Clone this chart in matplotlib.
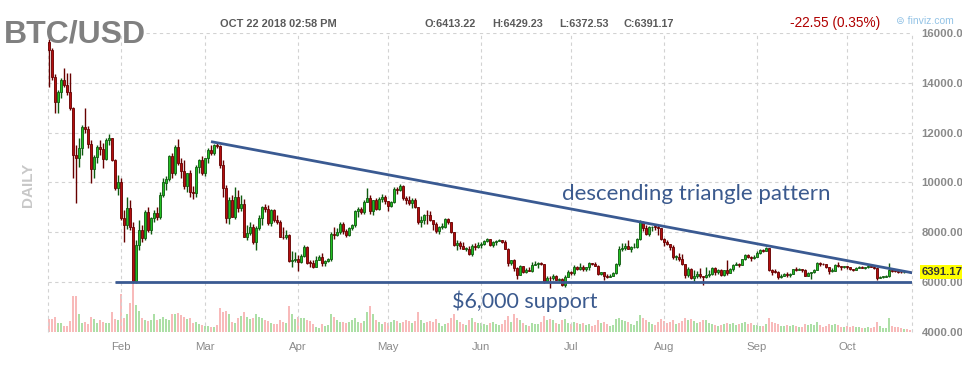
import numpy as np
import pandas as pd
import matplotlib
matplotlib.use("Agg")
import matplotlib.pyplot as plt
import matplotlib.dates as mdates
from matplotlib.transforms import blended_transform_factory
from matplotlib.patches import Rectangle

plt.rcParams["font.family"] = ["Liberation Sans", "DejaVu Sans"]

# daily BTC/USD candles, one per day from Jan 8 to Oct 22 2018
first_day = "2018-01-08"
last_day = "2018-10-22"
first_open = 15650

close = [
    # Jan
    15300, 14240, 13240, 13640, 14110, 13910, 13640, 12970, 11100, 10980, 11370, 12230,
    12150, 11550, 10560, 11030, 11440, 11360, 10960, 11700, 11780, 10900, 9760, 10030,
    # Feb
    8560, 8290, 8960, 8230, 6030, 7490, 8090, 7760, 8830, 8090, 8560, 8760, 8600, 9480,
    10000, 10150, 11050, 10400, 11440, 10770, 10450, 9850, 10370, 9630, 9560, 10630, 10900, 10370,
    # Mar
    10970, 11300, 11170, 11500, 11450, 10700, 9770, 8560, 9300, 8630, 9430, 8960, 9150, 7830,
    7960, 8230, 7630, 8160, 8560, 9000, 8950, 8360, 8900, 8490, 8430, 7830, 7800, 7900, 6850,
    6880, 6930,
    # Apr
    6820, 7050, 7400, 6780, 6770, 6620, 6900, 7030, 6780, 6840, 6940, 7920, 7890, 8000, 8350,
    8060, 7890, 8160, 8280, 8860, 8920, 8800, 9230, 9360, 8870, 9280, 8940, 9350, 9400, 9240,
    # May
    9070, 9220, 9740, 9700, 9850, 9380, 9280, 9180, 9310, 9010, 8420, 8480, 8700, 8680, 8480,
    8340, 8060, 8230, 8230, 8520, 8400, 8000, 7500, 7580, 7470, 7350, 7350, 7120, 7460, 7400, 7500,
    # Jun
    7530, 7640, 7720, 7500, 7620, 7650, 7690, 7620, 7350, 6760, 6880, 6550, 6300, 6640, 6400,
    6490, 6460, 6700, 6740, 6760, 6720, 6050, 6170, 6150, 6250, 6100, 6130, 5880, 6220, 6390,
    # Jul
    6360, 6620, 6510, 6590, 6530, 6600, 6760, 6710, 6660, 6310, 6390, 6250, 6220, 6260, 6360,
    6740, 7320, 7380, 7470, 7330, 7400, 7400, 7720, 8400, 8170, 7940, 8200, 8230, 8220, 8180, 7730,
    # Aug
    7610, 7540, 7420, 7010, 7030, 6940, 6720, 6280, 6540, 6150, 6240, 6320, 6250, 6190, 6270,
    6310, 6580, 6400, 6490, 6270, 6480, 6360, 6530, 6700, 6730, 6700, 6910, 7080, 7030, 6980, 7020,
    # Sep
    7190, 7280, 7260, 7360, 6500, 6420, 6410, 6190, 6250, 6330, 6290, 6340, 6510, 6500, 6520,
    6500, 6260, 6350, 6390, 6490, 6760, 6720, 6710, 6590, 6440, 6460, 6680, 6630, 6600, 6630,
    # Oct
    6590, 6530, 6490, 6570, 6620, 6580, 6600, 6660, 6620, 6580, 6180, 6200, 6210, 6230, 6490,
    6460, 6440, 6400, 6390, 6420, 6413.22, 6391.17,
]

high = [
    15750, 15400, 14350, 13700, 14200, 14580, 14380, 14380, 13050, 11500, 11800, 12300,
    13010, 12250, 11700, 11100, 11500, 11700, 11600, 11800, 11960, 11800, 10950, 10300,
    10200, 8900, 9430, 9300, 8400, 7700, 8500, 8300, 8900, 9000, 8600, 8900, 9000, 9600,
    10200, 10250, 11100, 11200, 11500, 11750, 11000, 10900, 10400, 10500, 9850, 10700, 10950, 11050,
    11000, 11400, 11500, 11550, 11640, 11500, 10900, 9900, 9400, 9500, 9830, 9700, 9480, 9350,
    8300, 8400, 8350, 8250, 8700, 9050, 9150, 9100, 8950, 8950, 8700, 8500, 8200, 8100, 7950,
    7250, 7200,
    7100, 7120, 7500, 7450, 6900, 6900, 7050, 7100, 7180, 6880, 6980, 8000, 8200, 8180, 8400,
    8400, 8150, 8200, 8320, 8900, 9030, 9000, 9300, 9780, 9500, 9300, 9380, 9400, 9550, 9480,
    9260, 9270, 9800, 9800, 9950, 9900, 9450, 9470, 9380, 9380, 9030, 8650, 8750, 8880, 8840,
    8500, 8400, 8260, 8380, 8580, 8560, 8420, 8020, 7700, 7650, 7600, 7400, 7440, 7530, 7560, 7600,
    7600, 7690, 7760, 7750, 7660, 7700, 7750, 7700, 7690, 7380, 6900, 6910, 6620, 6700, 6660,
    6550, 6600, 6800, 6830, 6800, 6790, 6730, 6250, 6250, 6330, 6290, 6180, 6170, 6300, 6480,
    6430, 6680, 6650, 6760, 6690, 6620, 6800, 6780, 6800, 6690, 6400, 6400, 6340, 6310, 6400,
    6760, 7470, 7580, 7560, 7690, 7450, 7570, 7770, 8480, 8460, 8280, 8260, 8240, 8290, 8280, 8190,
    7760, 7700, 7540, 7490, 7090, 7160, 7150, 6730, 6620, 6560, 6480, 6460, 6550, 6260, 6620,
    6480, 6590, 6600, 6540, 6520, 6500, 6880, 6560, 6720, 6810, 6770, 6940, 7140, 7140, 7060, 7080,
    7250, 7340, 7350, 7400, 7380, 6530, 6520, 6460, 6320, 6350, 6400, 6360, 6540, 6590, 6560,
    6530, 6520, 6390, 6420, 6540, 6800, 6800, 6770, 6720, 6600, 6550, 6710, 6800, 6640, 6650,
    6650, 6610, 6540, 6600, 6640, 6630, 6610, 6690, 6660, 6630, 6590, 6250, 6240, 6300, 6780,
    6510, 6480, 6460, 6430, 6430, 6450, 6429.23,
]

low = [
    13850, 14100, 12800, 12790, 13400, 13850, 13500, 12900, 10180, 9190, 10630, 11100,
    12000, 11400, 9970, 10180, 10800, 11100, 10600, 10900, 11500, 10850, 9700, 9500,
    8500, 7620, 8150, 8100, 5980, 5970, 7300, 7600, 7700, 8000, 7950, 8400, 8500, 8550,
    9400, 9700, 10050, 10200, 10300, 10700, 10200, 9750, 9600, 9400, 9350, 9400, 10400, 10300,
    10250, 10800, 11100, 11100, 11400, 10600, 9400, 8370, 8350, 8600, 8550, 8800, 8850, 7800,
    7700, 7900, 7550, 7300, 8100, 8300, 8800, 8300, 8250, 8400, 8350, 7800, 7750, 7750, 6800,
    6600, 6800,
    6450, 6780, 7000, 6720, 6600, 6550, 6600, 6880, 6630, 6660, 6800, 6850, 7750, 7850, 7950,
    7950, 7830, 7850, 8100, 8200, 8600, 8750, 8750, 9200, 8750, 8700, 8900, 8900, 9200, 9150,
    8850, 9020, 9180, 9530, 9650, 9300, 9150, 9100, 8980, 8990, 8330, 8200, 8350, 8350, 8440,
    8100, 7960, 7950, 8150, 8180, 8350, 7980, 7450, 7300, 7350, 7330, 7250, 7090, 7060, 7300, 7370,
    7360, 7480, 7600, 7470, 7400, 7500, 7640, 7570, 7320, 6650, 6680, 6460, 6120, 6280, 6380,
    6380, 6450, 6400, 6670, 6580, 6680, 5950, 6030, 5780, 6090, 6080, 6030, 5850, 5800, 6200,
    6270, 6300, 6500, 6480, 6450, 6450, 6500, 6690, 6650, 6280, 6300, 6080, 6150, 6190, 6250,
    6340, 6660, 7240, 7280, 7320, 7220, 7390, 7390, 7700, 8050, 7880, 7850, 8070, 8110, 7880, 7690,
    7460, 7490, 7300, 6940, 6880, 6860, 6670, 6150, 6200, 6120, 6030, 6180, 6160, 5880, 6180,
    6220, 6300, 6300, 6320, 6260, 6260, 6300, 6350, 6450, 6680, 6600, 6670, 6880, 6980, 6860, 6920,
    7000, 7150, 7200, 7250, 6450, 6300, 6360, 6140, 6150, 6240, 6200, 6200, 6330, 6460, 6490,
    6410, 6240, 6250, 6130, 6370, 6480, 6660, 6680, 6570, 6330, 6400, 6440, 6600, 6500, 6580,
    6540, 6500, 6460, 6480, 6550, 6570, 6540, 6580, 6590, 6530, 6080, 6160, 6180, 6190, 6200,
    6420, 6410, 6360, 6370, 6380, 6400, 6372.53,
]

# traded volume, relative units (same day order)
volume = [
    13, 13, 15, 9, 9, 6, 6, 11, 36, 36, 18, 9, 10, 8, 15, 13, 9, 12, 10, 9, 9, 20, 13, 12,
    38, 14, 18, 29, 49, 27, 21, 14, 12, 11, 12, 18, 12, 13, 15, 13, 12, 18, 18, 19, 17, 15,
    13, 14, 9, 10, 8, 7,
    6, 6, 5, 5, 7, 24, 20, 21, 18, 10, 9, 14, 16, 20, 15, 13, 14, 18, 15, 14, 12, 11, 9, 8,
    8, 12, 10, 9, 26, 18, 13,
    15, 14, 14, 12, 11, 8, 5, 4, 8, 6, 7, 18, 15, 12, 10, 10, 9, 10, 12, 14, 10, 9, 11, 20,
    26, 18, 12, 10, 8, 10,
    9, 10, 12, 11, 9, 10, 12, 11, 9, 11, 20, 12, 9, 10, 11, 10, 13, 9, 6, 8, 9, 14, 18, 12,
    10, 8, 7, 12, 14, 10, 9,
    9, 8, 7, 9, 10, 8, 7, 8, 12, 16, 10, 18, 14, 12, 9, 7, 6, 9, 8, 8, 10, 16, 12, 13, 12, 9,
    8, 12, 13, 9,
    8, 10, 9, 8, 9, 7, 8, 6, 7, 12, 9, 10, 8, 6, 7, 13, 14, 12, 11, 10, 8, 7, 11, 17, 14, 12,
    10, 8, 7, 10, 13,
    11, 9, 10, 12, 8, 9, 11, 14, 12, 13, 11, 9, 10, 12, 12, 9, 8, 7, 6, 7, 8, 9, 8, 9, 7, 8,
    9, 10, 8, 9, 7,
    7, 6, 6, 8, 14, 10, 9, 8, 6, 6, 7, 6, 7, 6, 5, 5, 8, 7, 8, 7, 10, 7, 5, 6, 8, 7, 8, 7, 5, 5,
    6, 5, 6, 5, 5, 4, 4, 5, 4, 5, 10, 6, 4, 4, 14, 6, 5, 5, 4, 3, 3, 2,
]

month_starts = ["2018-02-01", "2018-03-01", "2018-04-01", "2018-05-01", "2018-06-01",
                "2018-07-01", "2018-08-01", "2018-09-01", "2018-10-01"]
month_names = ["Feb", "Mar", "Apr", "May", "Jun", "Jul", "Aug", "Sep", "Oct"]
price_ticks = [4000, 6000, 8000, 10000, 12000, 14000, 16000]

# drawn-in lines
support_price = 6000
support_start = "2018-01-30"
trend_dates = ["2018-03-03", "2018-10-23"]
trend_prices = [11640, 6370]

quote_time = "OCT 22 2018 02:58 PM"
quote_names = ["O", "H", "L", "C"]
quote_values = [6413.22, 6429.23, 6372.53, 6391.17]
change = -22.55
change_pct = 0.35

W, H = 978, 374


def fx(px):
    return px / W


def fy(py):
    return 1 - py / H


days = mdates.date2num(pd.date_range(first_day, last_day, freq="D"))
c = np.array(close, dtype=float)
# 24h market: each day opens where the previous one closed
o = np.concatenate([[first_open], c[:-1]])
hi = np.array(high, dtype=float)
lo = np.array(low, dtype=float)
up = c >= o

fig = plt.figure(figsize=(W / 100, H / 100), dpi=100)
axv = fig.add_axes([fx(48), fy(332), fx(912) - fx(48), fy(33) - fy(332)])
ax = axv.twinx()

x_left = days[0] - 0.33
x_right = days[-1] + 0.67

# volume underneath the candles
axv.bar(days, volume, width=0.9, color=np.where(up, "#acdfa6", "#f8baba"), linewidth=0)
axv.set_ylim(0, 299)
axv.set_xlim(x_left, x_right)
axv.set_yticks([])
axv.set_xticks(mdates.date2num(pd.to_datetime(month_starts)))
axv.set_xticklabels(month_names)
axv.tick_params(axis="x", length=0, pad=7, labelsize=8.2, labelcolor="#8a8a8a")
for s in axv.spines.values():
    s.set_visible(False)

# grid (the top line stops where the title sits)
grid_kw = dict(color="#d2d2d2", linestyle=(0, (3, 3)), linewidth=0.8, zorder=0.5)
for m in mdates.date2num(pd.to_datetime(month_starts)):
    ax.axvline(m, **grid_kw)
for xe in (x_left, x_right):
    ax.axvline(xe, clip_on=False, **grid_kw)
for p in price_ticks[1:-1]:
    ax.axhline(p, **grid_kw)
ax.axhline(price_ticks[-1], xmin=(146 - 48) / 864, **grid_kw)

# candles
edge = np.where(up, "#0f5a0f", "#660000")
ax.vlines(days, lo, hi, colors=edge, linewidth=1, zorder=2)
ax.bar(days, np.maximum(np.abs(c - o), 30), bottom=np.minimum(o, c), width=0.75,
       color=np.where(up, "#22c022", "#b30e0e"), edgecolor=edge, linewidth=0.6, zorder=3)

# support and descending trend line
line_col = "#3a5a92"
ax.hlines(support_price, mdates.date2num(pd.Timestamp(support_start)), x_right,
          color=line_col, linewidth=2, zorder=4)
ax.plot(mdates.date2num(pd.to_datetime(trend_dates)), trend_prices,
        color=line_col, linewidth=2, zorder=4, solid_capstyle="butt")

ax.set_ylim(4000, 16000)
ax.set_xlim(x_left, x_right)
ax.set_yticks(price_ticks)
ax.yaxis.set_major_formatter("{x:.2f}")
ax.tick_params(axis="y", length=0, pad=7, labelsize=8.2, labelcolor="#8a8a8a")
for t in ax.get_yticklabels():
    t.set_fontweight("bold")
for s in ax.spines.values():
    s.set_visible(False)

# last price flag
tr = blended_transform_factory(ax.transAxes, ax.transData)
ax.annotate(f"{quote_values[3]:.2f}", xy=(1, quote_values[3]), xycoords=tr,
            xytext=(7.2, 0), textcoords="offset points", ha="left", va="center",
            fontsize=8.2, fontweight="bold", color="#333333", annotation_clip=False,
            bbox=dict(boxstyle="square,pad=0.18", fc="#ffff00", ec="none"), zorder=6)

# chart notes
note_col = "#3b5a8e"
fig.text(fx(562), fy(200.5), "descending triangle pattern", fontsize=16,
         family=["Lato", "DejaVu Sans"], color=note_col, va="baseline")
fig.text(fx(452), fy(307.5), "$6,000 support", fontsize=15.5,
         family=["Lato", "DejaVu Sans"], color=note_col, va="baseline")

# header
fig.text(fx(4), fy(42.7), "BTC/USD", fontsize=23, fontweight="bold", color="#808080",
         va="baseline")
fig.text(fx(220), fy(27.3), quote_time, fontsize=7.9, fontweight="bold", color="#5a5a5a",
         va="baseline")
for xq, n, v in zip([425, 492, 559, 624], quote_names, quote_values):
    fig.text(fx(xq), fy(27.3), f"{n}:{v:.2f}", fontsize=7.8, fontweight="bold",
             color="#5a5a5a", va="baseline")
fig.text(fx(790), fy(27.3), f"{change:.2f} ({change_pct:.2f}%)", fontsize=9.8,
         color="#b00000", va="baseline")
fig.text(fx(896), fy(24.5), "\u229c finviz.com", fontsize=7.5, color="#93c3e6",
         va="baseline")
fig.text(fx(28), fy(185), "DAILY", fontsize=11, fontweight="bold", color="#c8c8c8",
         rotation=90, ha="center", va="center")

# the quote widget is narrower than the picture: cut everything right of it
fig.add_artist(Rectangle((fx(962), 0), 1 - fx(962), 1, transform=fig.transFigure,
                         facecolor="white", edgecolor="none", zorder=20))

fig.savefig("out.png", dpi=100)
